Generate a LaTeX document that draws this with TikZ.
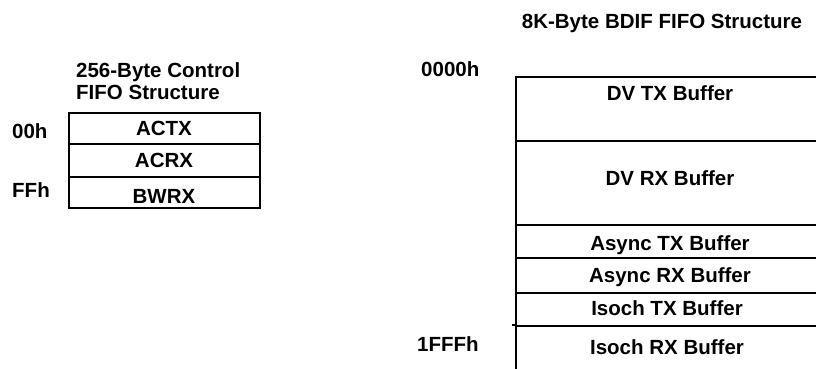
\documentclass[tikz,border=0pt]{standalone}
\usepackage{fontspec}
\setmainfont{Liberation Sans}
\begin{document}
\begin{tikzpicture}[x=1pt,y=-1pt,
  cell/.style={draw, line width=1.7pt, inner sep=0pt, anchor=north west},
  lcell/.style={cell, minimum width=191pt},
  rcell/.style={cell, minimum width=310pt},
  txt/.style={font=\bfseries\fontsize{20.5}{24}\selectfont, inner sep=0pt, text height=14.7pt, text depth=0pt},
  ltxt/.style={txt, anchor=west}]
\useasboundingbox (0,0) rectangle (816,368);
% left FIFO
\node[ltxt] (lt1) at (76,70) {256-Byte Control};
\node[ltxt] (lt2) at (76,92) {FIFO Structure};
\node[lcell, minimum height=31pt] (actx) at (68,112) {};
\node[lcell, minimum height=33pt] (acrx) at (68,143) {};
\node[lcell, minimum height=31pt] (bwrx) at (68,176) {};
\node[txt] (tactx) at (164,128) {ACTX};
\node[txt] (tacrx) at (164,160) {ACRX};
\node[txt] (tbwrx) at (164,196) {BWRX};
\node[ltxt] (a00) at (12,131) {00h};
\node[ltxt] (aff) at (12,190) {FFh};
% right FIFO
\node[txt] (rt) at (662,21) {8K-Byte BDIF FIFO Structure};
\node[rcell, minimum height=64pt] (dvtx) at (515,76) {};
\node[rcell, minimum height=84pt] (dvrx) at (515,140) {};
\node[rcell, minimum height=33pt] (astx) at (515,224) {};
\node[rcell, minimum height=35pt] (asrx) at (515,257) {};
\node[rcell, minimum height=33pt] (istx) at (515,292) {};
\node[rcell, minimum height=50pt] (isrx) at (515,325) {};
\draw[line width=1.7pt] (isrx.north west) -- ++(-3,0);
\node[txt] (tdvtx) at (670,93) {DV TX Buffer};
\node[txt] (tdvrx) at (670,178) {DV RX Buffer};
\node[txt] (tastx) at (670,243) {Async TX Buffer};
\node[txt] (tasrx) at (670,275) {Async RX Buffer};
\node[txt] (tistx) at (667,308) {Isoch TX Buffer};
\node[txt] (tisrx) at (667,347) {Isoch RX Buffer};
\node[ltxt] (a0000) at (421,69) {0000h};
\node[ltxt] (a1fff) at (417,344) {1FFFh};
\end{tikzpicture}
\end{document}
